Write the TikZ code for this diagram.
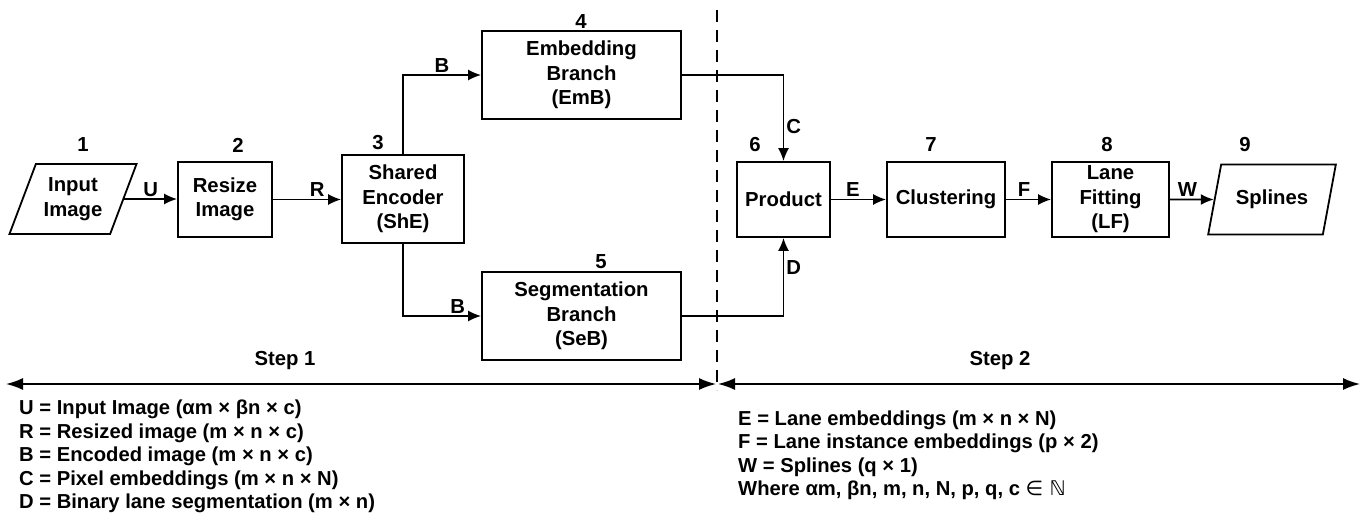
\documentclass[tikz,border=0pt]{standalone}
\usepackage{fontspec}
\setmainfont{Liberation Sans}
\newfontfamily\symfont{DejaVu Sans}
\usetikzlibrary{arrows.meta}
\usetikzlibrary{shapes.geometric}

\tikzset{
  box/.style={draw, line width=1.8, inner sep=0, minimum height=75, align=center},
  io/.style={draw, line width=1.8, trapezium, trapezium left angle=64,
    trapezium right angle=116, trapezium stretches=true,
    minimum width=128, minimum height=70, inner sep=0, align=center},
  conn/.style={line width=1.6, -{Latex[length=13,width=11]}},
  span/.style={line width=1.6, {Latex[length=17,width=12]}-{Latex[length=17,width=12]}},
  lbl/.style={inner sep=2},
  legend/.style={anchor=north west, align=left, inner sep=0,
    font=\bfseries\fontsize{20.2}{23.4}\selectfont},
}

\begin{document}
\begin{tikzpicture}[x=1pt, y=-1pt, font=\bfseries\fontsize{20.3}{24.5}\selectfont]
\useasboundingbox (0,0) rectangle (1367,519);

% blocks
\node[io] (input) at (73,199) {Input\\Image};
\node[box, minimum width=94] (resize) at (225,199.5) {Resize\\Image};
\node[box, minimum width=122, minimum height=88] (she) at (403,199) {Shared\\Encoder\\(ShE)};
\node[box, minimum width=199, minimum height=88] (emb) at (581.5,75) {Embedding\\Branch\\(EmB)};
\node[box, minimum width=199, minimum height=88] (seb) at (581.5,316) {Segmentation\\Branch\\(SeB)};
\node[box, minimum width=93] (prod) at (783.5,199.5) {Product};
\node[box, minimum width=118] (clus) at (946,199.5) {Clustering};
\node[box, minimum width=117] (lf) at (1110.5,199.5) {Lane\\Fitting\\(LF)};
\node[io] (spl) at (1272,199.5) {Splines};

% block numbers
\node (n1) at (83,145) {1};
\node (n2) at (238,145) {2};
\node (n3) at (378,143) {3};
\node (n4) at (581,22) {4};
\node (n5) at (601,262) {5};
\node (n6) at (755,145) {6};
\node (n7) at (931,145) {7};
\node (n8) at (1107,145) {8};
\node (n9) at (1245,145) {9};

% connectors
\draw[conn] (input.east) -- (input.east -| resize.west) node[midway,above,lbl] (lu) {U};
\draw[conn] (resize.east) -- (resize.east -| she.west) node[pos=0.65,above,lbl] (lr) {R};
\draw[conn] (she.north) |- (emb.west) node[pos=0.75,above,lbl] (lb1) {B};
\draw[conn] (she.south) |- (seb.west) node[pos=0.85,above,lbl] (lb2) {B};
\draw[conn] (emb.east) -| (prod.north) node[pos=0.8,right,lbl] (lc) {C};
\draw[conn] (seb.east) -| (prod.south) node[pos=0.81,right,lbl] (ld) {D};
\draw[conn] (prod.east) -- (clus.west) node[pos=0.4,above,lbl] (le) {E};
\draw[conn] (clus.east) -- (lf.west) node[pos=0.4,above,lbl] (lf2) {F};
\draw[conn] (lf.east) -- (spl.west) node[pos=0.4,above,lbl] (lw) {W};

% steps
\coordinate (dtop) at (717,10);
\coordinate (dbot) at (717,390);
\draw[line width=1.3, dash pattern=on 12 off 8] (dtop) -- (dbot);
\coordinate (s1l) at (6,384);
\coordinate (s1r) at (716,384);
\coordinate (s2l) at (718,384);
\coordinate (s2r) at (1360,384);
\draw[span] (s1l) -- (s1r);
\draw[span] (s2l) -- (s2r);
\node (step1) at (285,361) {Step 1};
\node (step2) at (1000,361) {Step 2};

% legend
\node[legend] (legl) at (19,400) {U = Input Image (αm × βn × c)\\
R = Resized image (m × n × c)\\
B = Encoded image (m × n × c)\\
C = Pixel embeddings (m × n × N)\\
D = Binary lane segmentation (m × n)};
\node[legend] (legr) at (738,410.5) {E = Lane embeddings (m × n × N)\\
F = Lane instance embeddings (p × 2)\\
W = Splines (q × 1)\\
Where αm, βn, m, n, N, p, q, c {\symfont\mdseries ∈ ℕ}};
\end{tikzpicture}
\end{document}
